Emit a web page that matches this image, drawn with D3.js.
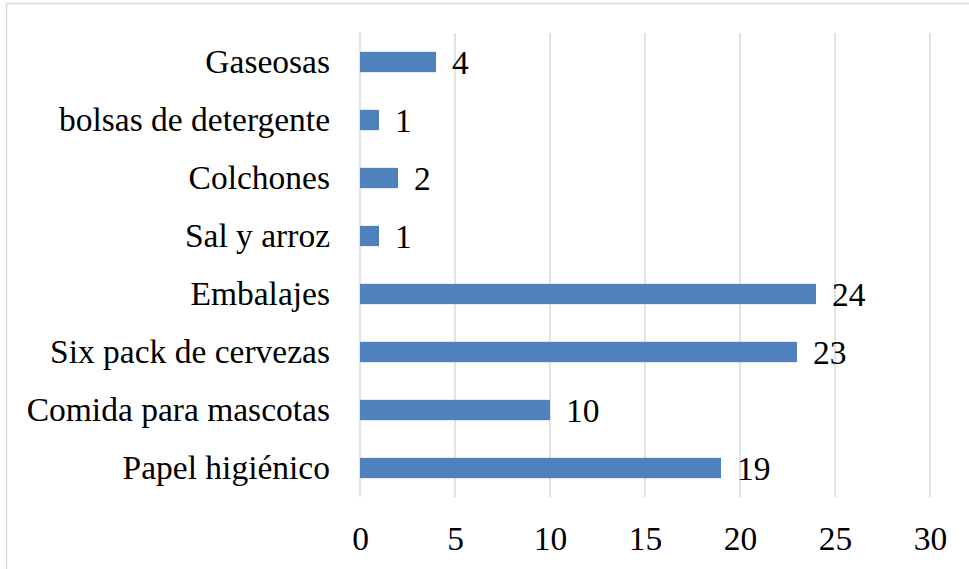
<!DOCTYPE html>
<html>
<head>
<meta charset="utf-8">
<script src="https://cdn.jsdelivr.net/npm/d3@7"></script>
<style>
  body { margin: 0; background: #fff; }
  .chart text { font-family: "Liberation Serif", "DejaVu Serif", serif; fill: #000; }
</style>
</head>
<body>
<div class="chart"></div>
<script>
const FRAME_WIDTH = 969;
const FRAME_HEIGHT = 569;
const MARGINS = {left: 360, right: 39, top: 33, bottom: 72};
const FONT_SIZE = "33.5px";

// data, top to bottom
const CATEGORIES = ["Gaseosas", "bolsas de detergente", "Colchones", "Sal y arroz",
                    "Embalajes", "Six pack de cervezas", "Comida para mascotas", "Papel higiénico"];
const VALUES = [4, 1, 2, 1, 24, 23, 10, 19];
const X_TICKS = [0, 5, 10, 15, 20, 25, 30];

const data = CATEGORIES.map((c, i) => ({name: c, value: VALUES[i]}));

const PLOT_WIDTH = FRAME_WIDTH - MARGINS.left - MARGINS.right;
const PLOT_HEIGHT = FRAME_HEIGHT - MARGINS.top - MARGINS.bottom;

const FRAME = d3.select(".chart")
                .append("svg")
                .attr("width", FRAME_WIDTH)
                .attr("height", FRAME_HEIGHT);

// outer chart border (only top and left show in the crop)
FRAME.append("rect")
    .attr("x", 6.5).attr("y", 3.5)
    .attr("width", FRAME_WIDTH + 10).attr("height", FRAME_HEIGHT + 10)
    .attr("fill", "none")
    .attr("stroke", "#d9d9d9")
    .attr("stroke-width", 1.5);

const X_SCALE = d3.scaleLinear()
                  .domain([0, 30])
                  .range([0, PLOT_WIDTH]);

const Y_SCALE = d3.scaleBand()
                  .domain(CATEGORIES)
                  .range([0, PLOT_HEIGHT])
                  .paddingInner(0.65)
                  .paddingOuter(0.325);

const PLOT = FRAME.append("g")
    .attr("transform", "translate(" + MARGINS.left + "," + MARGINS.top + ")");

// vertical gridlines
PLOT.append("g")
    .selectAll("line")
    .data(X_TICKS)
    .enter().append("line")
        .attr("x1", d => X_SCALE(d)).attr("x2", d => X_SCALE(d))
        .attr("y1", 0).attr("y2", PLOT_HEIGHT)
        .attr("stroke", "#d9d9d9")
        .attr("stroke-width", 1.5);

// x axis labels
const xAxis = PLOT.append("g")
    .attr("transform", "translate(0," + PLOT_HEIGHT + ")")
    .call(d3.axisBottom(X_SCALE).tickValues(X_TICKS).tickSize(0).tickPadding(29));
xAxis.select(".domain").remove();
xAxis.selectAll("text")
    .attr("font-size", FONT_SIZE)
    .attr("font-family", "Liberation Serif");

// y axis labels
const yAxis = PLOT.append("g")
    .call(d3.axisLeft(Y_SCALE).tickSize(0).tickPadding(30));
yAxis.select(".domain").remove();
yAxis.selectAll("text")
    .attr("font-size", FONT_SIZE)
    .attr("font-family", "Liberation Serif");

// bars
PLOT.selectAll(".bar")
    .data(data)
    .enter().append("rect")
        .attr("class", "bar")
        .attr("x", X_SCALE(0))
        .attr("y", d => Y_SCALE(d.name))
        .attr("width", d => X_SCALE(d.value) - X_SCALE(0))
        .attr("height", Y_SCALE.bandwidth())
        .attr("fill", "#4f81bd");

// value labels
PLOT.selectAll(".value")
    .data(data)
    .enter().append("text")
        .attr("class", "value")
        .attr("x", d => X_SCALE(d.value) + 16)
        .attr("y", d => Y_SCALE(d.name) + Y_SCALE.bandwidth() / 2)
        .attr("dy", "0.35em")
        .attr("font-size", FONT_SIZE)
        .text(d => d.value);
</script>
</body>
</html>
